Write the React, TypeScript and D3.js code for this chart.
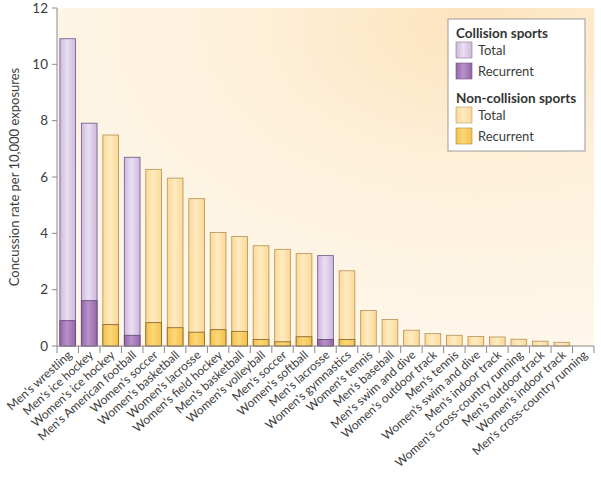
import React from "react";
import * as d3 from "d3";

const sports = [
  "Men's wrestling",
  "Men's ice hockey",
  "Women's ice hockey",
  "Men's American football",
  "Women's soccer",
  "Women's basketball",
  "Women's lacrosse",
  "Women's field hockey",
  "Men's basketball",
  "Women's volleyball",
  "Men's soccer",
  "Women's softball",
  "Men's lacrosse",
  "Women's gymnastics",
  "Women's tennis",
  "Men's baseball",
  "Men's swim and dive",
  "Women's outdoor track",
  "Men's tennis",
  "Women's swim and dive",
  "Men's indoor track",
  "Women's cross-country running",
  "Men's outdoor track",
  "Women's indoor track",
  "Men's cross-country running",
];
const totalRate = [
  10.91, 7.91, 7.49, 6.7, 6.27, 5.96, 5.23, 4.03, 3.89, 3.56, 3.43, 3.28, 3.21,
  2.67, 1.26, 0.94, 0.56, 0.44, 0.38, 0.34, 0.32, 0.24, 0.17, 0.13, 0,
];
const recurrentRate = [
  0.9, 1.61, 0.76, 0.38, 0.83, 0.65, 0.49, 0.58, 0.52, 0.23, 0.15, 0.33, 0.23,
  0.23, 0, 0, 0, 0, 0, 0, 0, 0, 0, 0, 0,
];
const collision = [
  true, true, false, true, false, false, false, false, false, false, false,
  false, true, false, false, false, false, false, false, false, false, false,
  false, false, false,
];
const yTicks = [0, 2, 4, 6, 8, 10, 12];

const W = 601;
const H = 485;
const FONT = "Lato, 'Open Sans', sans-serif";
const TEXT = "#3c3c3c";

export default function App() {
  const left = 57;
  const right = 594;
  const top = 8;
  const bottom = 346;

  const x = d3
    .scaleBand<string>()
    .domain(sports)
    .range([left, right])
    .paddingInner(0.27)
    .paddingOuter(0.135);
  const y = d3.scaleLinear().domain([0, 12]).range([bottom, top]);
  const step = x.step();
  const boundaries = d3.range(sports.length + 1).map((i) => left + i * step);

  const fills = {
    cTotal: "url(#gCT)",
    cRec: "url(#gCR)",
    nTotal: "url(#gNT)",
    nRec: "url(#gNR)",
  };

  const grad = (id: string, edge: string, mid: string) => (
    <linearGradient id={id} x1="0" x2="1" y1="0" y2="0">
      <stop offset="0%" stopColor={edge} />
      <stop offset="45%" stopColor={mid} />
      <stop offset="100%" stopColor={edge} />
    </linearGradient>
  );

  const legendItems = [
    { head: "Collision sports", y: 38, items: [["Total", fills.cTotal, "#8d7398"], ["Recurrent", fills.cRec, "#6f4f80"]] },
    { head: "Non-collision sports", y: 103, items: [["Total", fills.nTotal, "#b99a64"], ["Recurrent", fills.nRec, "#b58a35"]] },
  ];

  return (
    <svg
      width={W}
      height={H}
      style={{ position: "absolute", left: 0, top: 0, background: "#fff" }}
      fontFamily={FONT}
    >
      <defs>
        <radialGradient id="bg" cx="0.78" cy="0.05" r="0.95" fx="0.78" fy="0.05">
          <stop offset="0%" stopColor="#fde3bd" />
          <stop offset="45%" stopColor="#fef0da" />
          <stop offset="100%" stopColor="#fef7ea" />
        </radialGradient>
        {grad("gCT", "#cfb8de", "#e9dff2")}
        {grad("gCR", "#9566aa", "#b892c8")}
        {grad("gNT", "#fcd994", "#feebc2")}
        {grad("gNR", "#f6c04a", "#fbd879")}
      </defs>

      <rect x={left} y={top} width={right - left} height={bottom - top} fill="url(#bg)" />

      {sports.map((s, i) => {
        if (totalRate[i] <= 0) return null;
        const bx = x(s)!;
        const bw = x.bandwidth();
        const c = collision[i];
        const stroke = c ? "#7e6190" : "#bb9a62";
        return (
          <g key={s}>
            <rect
              x={bx}
              y={y(totalRate[i])}
              width={bw}
              height={y(0) - y(totalRate[i])}
              fill={c ? fills.cTotal : fills.nTotal}
              stroke={stroke}
              strokeWidth={0.9}
            />
            {recurrentRate[i] > 0 && (
              <rect
                x={bx}
                y={y(recurrentRate[i])}
                width={bw}
                height={y(0) - y(recurrentRate[i])}
                fill={c ? fills.cRec : fills.nRec}
                stroke={c ? "#6a4a7c" : "#8f6a2c"}
                strokeWidth={0.9}
              />
            )}
          </g>
        );
      })}

      {/* y axis */}
      <line x1={left} x2={left} y1={top} y2={bottom} stroke="#8a8a8a" strokeWidth={1} />
      {yTicks.map((t) => (
        <g key={t}>
          <line x1={left - 5} x2={left} y1={y(t)} y2={y(t)} stroke="#8a8a8a" />
          <text x={left - 9} y={y(t)} dy="0.35em" textAnchor="end" fontSize={13.5} fill={TEXT}>
            {t}
          </text>
        </g>
      ))}
      <text
        transform={`translate(19,${(top + bottom) / 2}) rotate(-90)`}
        textAnchor="middle"
        fontSize={13}
        fill={TEXT}
      >
        Concussion rate per 10,000 exposures
      </text>

      {/* x axis */}
      <line x1={left} x2={right} y1={bottom} y2={bottom} stroke="#8a8a8a" />
      {boundaries.map((b, i) => (
        <line key={i} x1={b} x2={b} y1={bottom} y2={bottom + 7} stroke="#8a8a8a" />
      ))}
      {sports.map((s) => (
        <text
          key={s}
          transform={`translate(${x(s)! + x.bandwidth() / 2 + 5},${bottom + 10}) rotate(-42)`}
          textAnchor="end"
          fontSize={12}
          fill={TEXT}
        >
          {s}
        </text>
      ))}

      {/* legend */}
      <rect x={448} y={19} width={137} height={132} fill="#fff" stroke="#9a9a9a" strokeWidth={1} />
      {legendItems.map((g) => (
        <g key={g.head}>
          <text x={456} y={g.y} fontSize={13.5} fontWeight="bold" fill="#333">
            {g.head}
          </text>
          {g.items.map(([label, fill, stroke], j) => (
            <g key={label} transform={`translate(456,${g.y + 4 + j * 21})`}>
              <rect width={16} height={16} fill={fill} stroke={stroke} strokeWidth={0.6} />
              <text x={22} y={13} fontSize={13} fill={TEXT}>
                {label}
              </text>
            </g>
          ))}
        </g>
      ))}
    </svg>
  );
}
